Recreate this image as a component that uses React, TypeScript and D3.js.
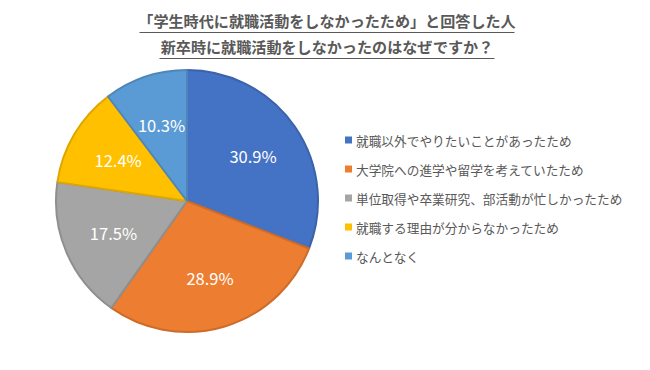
import React from "react";
import * as d3 from "d3";

const categories = [
  "就職以外でやりたいことがあったため",
  "大学院への進学や留学を考えていたため",
  "単位取得や卒業研究、部活動が忙しかったため",
  "就職する理由が分からなかったため",
  "なんとなく",
];
const values = [30.9, 28.9, 17.5, 12.4, 10.3];
const colors = ["#4472C4", "#ED7D31", "#A5A5A5", "#FFC000", "#5B9BD5"];
const titleLines = [
  "「学生時代に就職活動をしなかったため」と回答した人",
  "新卒時に就職活動をしなかったのはなぜですか？",
];

const W = 650;
const H = 370;
const FONT = "'Noto Sans CJK JP', 'Noto Sans', sans-serif";

export default function App() {
  const cx = 187;
  const cy = 201;
  const R = 131;
  const pie = d3
    .pie<number>()
    .sort(null)
    .value((d) => d)
    .startAngle(0)
    .endAngle(2 * Math.PI);
  const arcs = pie(values);
  const arc = d3.arc<d3.PieArcDatum<number>>().innerRadius(0).outerRadius(R);
  const labelArc = d3
    .arc<d3.PieArcDatum<number>>()
    .innerRadius(80)
    .outerRadius(80);

  const titleWidths = [375, 335];
  const legendY = d3
    .scalePoint<number>()
    .domain(categories.map((_, i) => i))
    .range([140, 256]);

  return (
    <svg
      width={W}
      height={H}
      style={{ position: "absolute", left: 0, top: 0, background: "#fff" }}
      fontFamily={FONT}
    >
      <rect width={W} height={H} fill="#fff" />
      {titleLines.map((t, i) => (
        <g key={i}>
          <text
            x={327}
            y={27 + i * 26}
            textAnchor="middle"
            fontSize={15.1}
            fontWeight="bold"
            fill="#595959"
          >
            {t}
          </text>
          <line
            x1={327 - titleWidths[i] / 2}
            x2={327 + titleWidths[i] / 2}
            y1={32.5 + i * 26}
            y2={32.5 + i * 26}
            stroke="#595959"
            strokeWidth={1}
          />
        </g>
      ))}
      <g transform={`translate(${cx},${cy})`}>
        {arcs.map((a, i) => (
          <path
            key={i}
            d={arc(a) || ""}
            fill={colors[i]}
            stroke={d3.color(colors[i])!.darker(0.4).toString()}
            strokeWidth={2}
            strokeLinejoin="round"
          />
        ))}
        {arcs.map((a, i) => {
          const [lx, ly] = labelArc.centroid(a);
          return (
            <text
              key={i}
              x={lx}
              y={ly}
              textAnchor="middle"
              dominantBaseline="central"
              fontSize={16.5}
              fill="#fff"
            >
              {values[i].toFixed(1)}%
            </text>
          );
        })}
      </g>
      {categories.map((c, i) => {
        const y = legendY(i)!;
        return (
          <g key={i}>
            <rect x={345} y={y - 3.5} width={7} height={7} fill={colors[i]} />
            <text
              x={356}
              y={y}
              dominantBaseline="central"
              fontSize={12.7}
              fill="#595959"
            >
              {c}
            </text>
          </g>
        );
      })}
    </svg>
  );
}
